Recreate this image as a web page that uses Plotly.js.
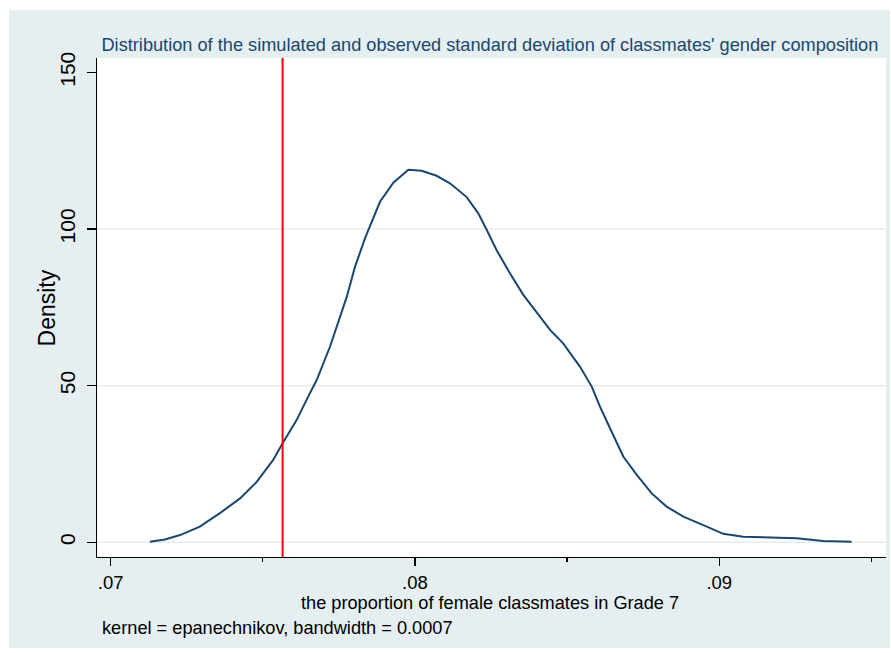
<!DOCTYPE html>
<html>
<head>
<meta charset="utf-8">
<script src="https://cdn.plot.ly/plotly-3.0.1.min.js"></script>
<style>
  html, body { margin: 0; padding: 0; background: #ffffff; }
  #chart { position: absolute; left: 9px; top: 10px; width: 881px; height: 638px; }
</style>
</head>
<body>
<div id="chart"></div>
<script>
// Kernel density estimate
const densX = [0.07129, 0.07178, 0.07228, 0.07293, 0.07359, 0.07425, 0.07480, 0.07534, 0.07565, 0.07611,
  0.07649, 0.07677, 0.07721, 0.07776, 0.07803, 0.07836, 0.07885, 0.07929, 0.07978, 0.08022,
  0.08071, 0.08115, 0.08170, 0.08208, 0.08236, 0.08268, 0.08312, 0.08356, 0.08400, 0.08444,
  0.08487, 0.08542, 0.08581, 0.08608, 0.08641, 0.08685, 0.08729, 0.08778, 0.08827, 0.08882,
  0.08959, 0.09013, 0.09079, 0.09156, 0.09254, 0.09342, 0.09435];
const densY = [0.2, 0.9, 2.3, 5.0, 9.3, 14.0, 19.3, 26.3, 31.6, 39.0,
  46.5, 51.8, 62.5, 78.4, 88.0, 97.1, 108.7, 114.8, 118.9, 118.6,
  117.0, 114.6, 110.2, 105.0, 99.7, 93.3, 85.9, 79.0, 73.4, 67.8,
  63.5, 56.1, 49.7, 43.3, 36.4, 27.3, 21.5, 15.6, 11.4, 8.2,
  5.0, 2.7, 1.8, 1.6, 1.3, 0.4, 0.2];
const observedValue = 0.07565;
const xTickVals = [0.07, 0.08, 0.09];
const xTickText = [".07", ".08", ".09"];
const yTickVals = [0, 50, 100, 150];
const yTickText = ["0", "50", "100", "150"];
const yGridVals = [0, 50, 100];

const titleText = "Distribution of the simulated and observed standard deviation of classmates' gender composition";
const xTitle = "the proportion of female classmates in Grade 7";
const yTitle = "Density";
const noteText = "kernel = epanechnikov, bandwidth = 0.0007";

const FONT = "Liberation Sans, Arial, sans-serif";

const trace = {
  x: densX, y: densY, type: 'scatter', mode: 'lines',
  line: { color: '#1a476f', width: 2 }, hoverinfo: 'skip', showlegend: false
};

const shapes = yGridVals.map(v => ({
  type: 'line', xref: 'paper', x0: 0, x1: 1, yref: 'y', y0: v, y1: v,
  line: { color: '#e4ecef', width: 1.5 }, layer: 'below'
}));
shapes.push({
  type: 'line', xref: 'x', x0: observedValue, x1: observedValue, yref: 'paper', y0: 0, y1: 1,
  line: { color: '#ff0000', width: 2 }
});

const layout = {
  width: 881, height: 638,
  paper_bgcolor: '#e5eef0',
  plot_bgcolor: '#ffffff',
  margin: { l: 88, r: 4, t: 48, b: 91 },
  showlegend: false,
  title: {
    text: titleText,
    font: { family: FONT, size: 18.2, color: '#1a476f' },
    xref: 'paper', x: 0.498, xanchor: 'center',
    yref: 'container', y: 0.945, yanchor: 'middle'
  },
  xaxis: {
    range: [0.06955, 0.09548],
    tickvals: xTickVals, ticktext: xTickText,
    ticks: 'outside', ticklen: 8, tickwidth: 1.3, tickcolor: '#000000',
    showline: true, linecolor: '#000000', linewidth: 1.3,
    showgrid: false, zeroline: false,
    tickfont: { family: FONT, size: 18.5, color: '#000000' },
    ticklabelstandoff: 0,
    minor: { dtick: 0.005, tick0: 0.07, ticks: 'outside', ticklen: 4, tickwidth: 1.3, tickcolor: '#000000', showgrid: false }
  },
  yaxis: {
    range: [-4.7, 154.6],
    tickvals: yTickVals, ticktext: yTickText,
    ticks: 'outside', ticklen: 9, tickwidth: 1.3, tickcolor: '#000000',
    showline: true, linecolor: '#000000', linewidth: 1.3,
    showgrid: false, zeroline: false,
    tickangle: -90,
    tickfont: { family: FONT, size: 21, color: '#000000' },
    ticklabelstandoff: 3
  },
  shapes: shapes,
  annotations: [
    {
      text: yTitle, textangle: -90, showarrow: false,
      xref: 'paper', x: -0.0634, xanchor: 'center',
      yref: 'paper', y: 0.5, yanchor: 'middle',
      font: { family: FONT, size: 23, color: '#000000' }
    },
    {
      text: xTitle, showarrow: false,
      xref: 'paper', x: 0.498, xanchor: 'center',
      yref: 'paper', y: -0.0912, yanchor: 'middle',
      font: { family: FONT, size: 18.2, color: '#000000' }
    },
    {
      text: noteText, showarrow: false,
      xref: 'paper', x: 0.004, xanchor: 'left',
      yref: 'paper', y: -0.1423, yanchor: 'middle',
      font: { family: FONT, size: 18.2, color: '#000000' }
    }
  ]
};

Plotly.newPlot('chart', [trace], layout, { displayModeBar: false, staticPlot: true });
</script>
</body>
</html>
